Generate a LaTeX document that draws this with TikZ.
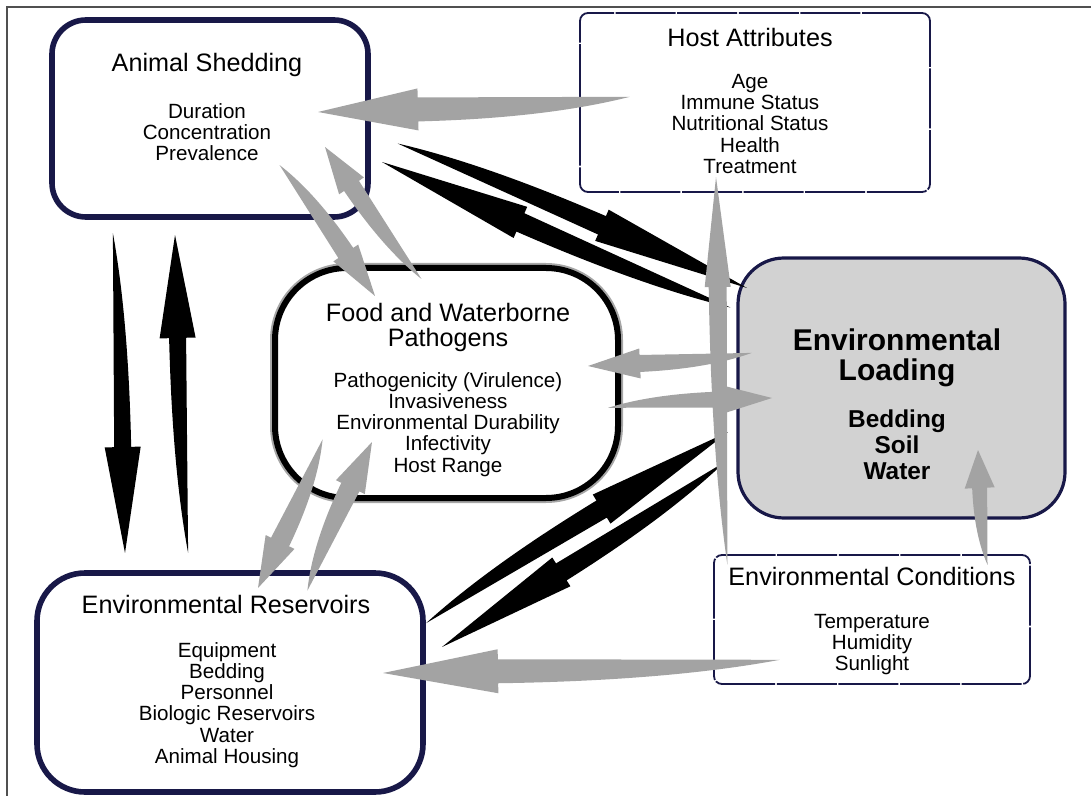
\documentclass[tikz,border=0pt]{standalone}
\usepackage{fontspec}
\setmainfont{Liberation Sans}
\usepackage{tikz}
\usetikzlibrary{calc}
\definecolor{boxNavy}{RGB}{24,24,72}
\definecolor{arrowGray}{RGB}{163,163,163}
\definecolor{loadGray}{RGB}{210,210,210}
\definecolor{frameGray}{RGB}{80,80,80}
\tikzset{
  roundBox/.style={draw=boxNavy, line width=2.8pt, fill=white, inner sep=0pt, outer sep=0pt},
  dashBox/.style={draw=boxNavy, line width=0.9pt, dash pattern=on 30pt off 0.8pt, rounded corners=4pt, fill=white, inner sep=0pt, outer sep=0pt},
  foodBox/.style={draw=black, line width=3pt, rounded corners=36pt, fill=white, inner sep=0pt, outer sep=0pt,
    preaction={draw=black!35, line width=5pt}},
  loadBox/.style={draw=boxNavy, line width=1.6pt, rounded corners=23pt, fill=loadGray, inner sep=0pt, outer sep=0pt},
  titleText/.style={font=\fontsize{12.6}{12.6}\selectfont, align=center, inner sep=0pt},
  bodyText/.style={font=\fontsize{10.3}{10.6}\selectfont, align=center, inner sep=0pt},
  grayArrow/.style={fill=arrowGray},
  blackArrow/.style={fill=black}
}
% tapered arrow: [style]{tail}{tip}{shaft half width}{head half width}{head length}
\newcommand{\quill}[6][grayArrow]{%
  \coordinate (qTail) at (#2);
  \coordinate (qTip) at (#3);
  \pgfpointdiff{\pgfpointanchor{qTail}{center}}{\pgfpointanchor{qTip}{center}}%
  \pgfgetlastxy{\qDx}{\qDy}%
  \pgfmathsetmacro{\qLen}{veclen(\qDx,\qDy)*2}%
  \pgfmathsetmacro{\qAng}{atan2(\qDy,\qDx)}%
  \pgfmathsetmacro{\qBase}{\qLen-#6}%
  \begin{scope}[shift={(qTail)}, rotate=\qAng]
    \fill[#1] (0,{0.6*#4}) .. controls ({0.3*\qBase},{-0.6*#4}) and ({0.65*\qBase},{-#4}) .. (\qBase,{-#4})
      -- (\qBase,{-#5}) -- (\qLen,0) -- (\qBase,#5) -- (\qBase,#4) -- cycle;
  \end{scope}}

\begin{document}
\begin{tikzpicture}[x=0.5pt, y=-0.5pt]
  \useasboundingbox (0,0) rectangle (1091,796);
  \draw[frameGray, line width=0.8pt] (7,796) -- (7,7) -- (1091,7);

  % boxes
  \node[roundBox, rounded corners=17pt, minimum width=158pt, minimum height=98.5pt] (shed) at (210,118.5) {};
  \node[dashBox, minimum width=175pt, minimum height=89.5pt] (host) at (755,102.5) {};
  \node[foodBox, minimum width=171.5pt, minimum height=115pt] (food) at (446.5,383) {};
  \node[loadBox, minimum width=163.5pt, minimum height=130pt] (load) at (901.5,388) {};
  \node[roundBox, rounded corners=24pt, minimum width=193pt, minimum height=109.5pt] (resv) at (230,682.5) {};
  \node[dashBox, minimum width=158pt, minimum height=64.5pt] (cond) at (872,619.5) {};

  % black arrows
  \quill[blackArrow]{$(shed.south)+(-92,16)$}{$(resv.north)+(-105,-20)$}{8.5}{18}{106}
  \quill[blackArrow]{$(resv.north)+(-47,-20)$}{$(shed.south)+(-35,18)$}{8.5}{18}{103}
  \quill[blackArrow]{$(shed.east)+(32,19.5)$}{$(load.north west)+(9,30)$}{10}{17}{158}
  \quill[blackArrow]{$(load.north west)+(-10,55)$}{$(shed.east)+(14,43.5)$}{10}{17}{151}
  \quill[blackArrow]{$(resv.north east)+(0,45)$}{$(load.west)+(-10,44)$}{10}{17}{148}
  \quill[blackArrow]{$(load.west)+(-10,79)$}{$(resv.north east)+(19,74)$}{10}{17}{141}

  % gray arrows
  \quill{$(host.west)+(50,1.5)$}{$(shed.east)+(-50,-6.5)$}{12}{21}{100}
  \quill{$(shed.south east)+(-84,-55)$}{$(food.north)+(-71.5,28)$}{9}{15}{52}
  \quill{$(food.north)+(-29.5,14)$}{$(shed.south east)+(-43,-70)$}{9}{15}{47}
  \quill{$(food.south west)+(53,-56)$}{$(resv.north)+(28,15)$}{10}{16}{51}
  \quill{$(resv.north)+(72,15)$}{$(food.south west)+(97,-56)$}{10}{16}{50}
  \quill{$(load.west)+(14,-30)$}{$(food.east)+(-30,-17)$}{8.5}{15}{52}
  \quill{$(food.east)+(-10,20)$}{$(load.west)+(34,10)$}{8}{14}{49}
  \quill{$(cond.north west)+(8,10)$}{$(host.south)+(-39,-15)$}{9}{13}{110}
  \quill{$(cond.north east)+(-47,10)$}{$(load.south)+(76.5,-68)$}{7.5}{15}{38}
  \quill{$(cond.west)+(66,47.5)$}{$(resv.east)+(-40,-9.5)$}{12}{22}{115}

  % texts
  \node[titleText, anchor=base] (shedTitle) at (207,72) {Animal Shedding};
  \node[bodyText, anchor=north] (shedBody) at (207,103) {Duration\\Concentration\\Prevalence};

  \node[titleText, anchor=base] (hostTitle) at (750,47) {Host Attributes};
  \node[bodyText, anchor=north] (hostBody) at (750,74) {Age\\Immune Status\\Nutritional Status\\Health\\Treatment};

  \node[titleText, anchor=north] (foodTitle) at (448,302.5) {Food and Waterborne\\Pathogens};
  \node[bodyText, anchor=north] (foodBody) at (448,372) {Pathogenicity (Virulence)\\Invasiveness\\Environmental Durability\\Infectivity\\Host Range};

  \node[font=\fontsize{15}{15}\selectfont\bfseries, align=center, inner sep=0pt, anchor=north] (loadTitle) at (897,328) {Environmental\\Loading};
  \node[font=\fontsize{12.2}{13}\selectfont\bfseries, align=center, inner sep=0pt, anchor=north] (loadBody) at (897,409) {Bedding\\Soil\\Water};

  \node[titleText, anchor=base] (resvTitle) at (226,613) {Environmental Reservoirs};
  \node[bodyText, anchor=north] (resvBody) at (227,642) {Equipment\\Bedding\\Personnel\\Biologic Reservoirs\\Water\\Animal Housing};

  \node[titleText, anchor=base] (condTitle) at (872,585) {Environmental Conditions};
  \node[bodyText, anchor=north] (condBody) at (872,614) {Temperature\\Humidity\\Sunlight};
\end{tikzpicture}
\end{document}
